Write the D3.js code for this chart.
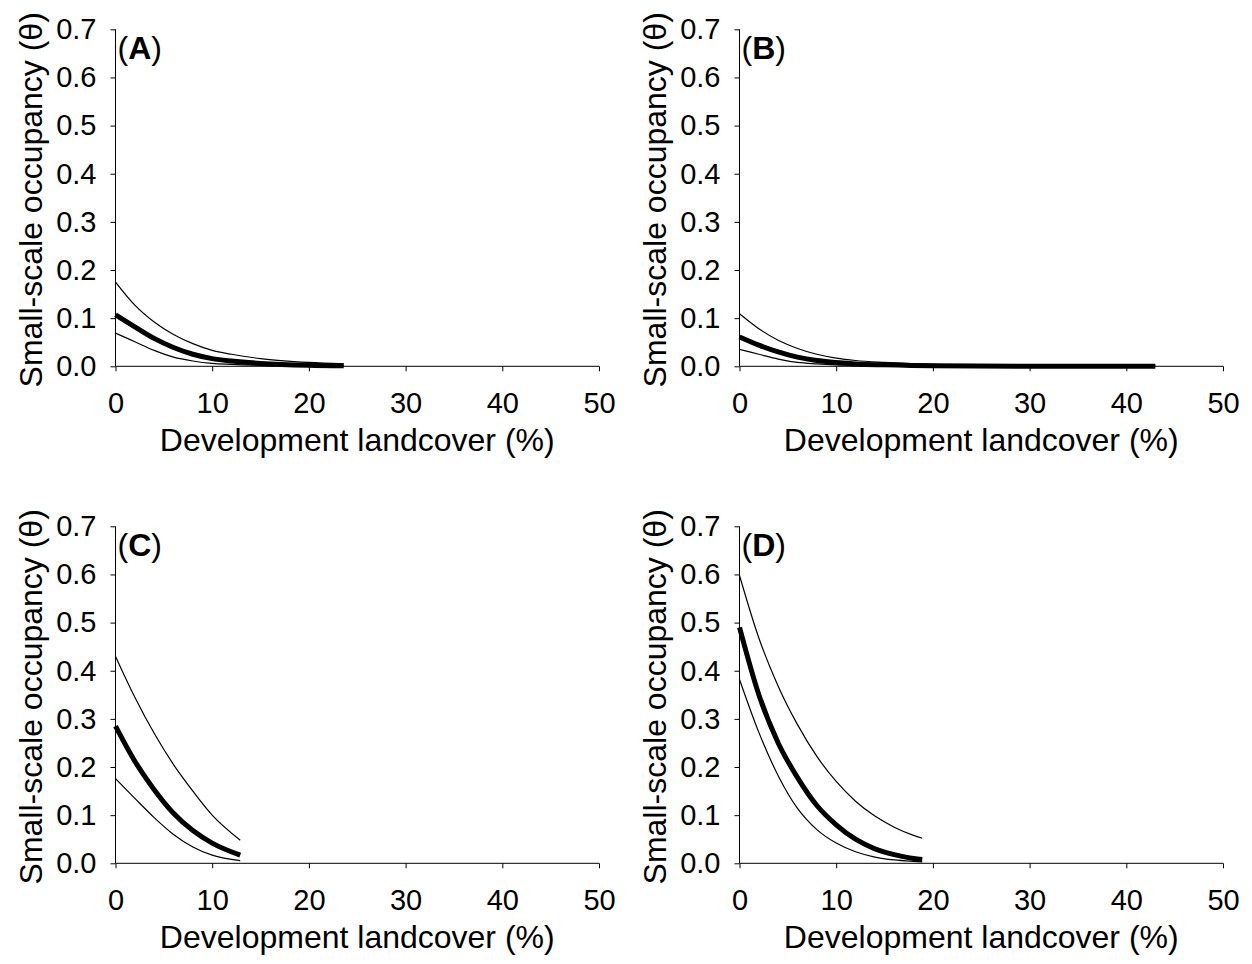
<!DOCTYPE html>
<html>
<head>
<meta charset="utf-8">
<script src="https://cdn.jsdelivr.net/npm/d3@7"></script>
<style>
  html, body { margin: 0; padding: 0; background: #fff; }
  svg text { font-family: "Liberation Sans", Arial, sans-serif; fill: #000; }
</style>
</head>
<body>
<svg id="chart" width="1252" height="964"></svg>
<script>
// Axis ticks
const xTicks = [0, 10, 20, 30, 40, 50];
const yTicks = [0, 0.1, 0.2, 0.3, 0.4, 0.5, 0.6, 0.7];
const panelLabels = ["A", "B", "C", "D"];

// Panel A: development landcover (%) and predicted occupancy with bounds
const xA = [0, 2, 4, 6, 8, 10, 12, 15, 20, 23.6];
const upperA = [0.175, 0.127, 0.092, 0.066, 0.047, 0.033, 0.025, 0.016, 0.008, 0.005];
const meanA  = [0.107, 0.082, 0.058, 0.039, 0.025, 0.016, 0.011, 0.006, 0.002, 0.001];
const lowerA = [0.069, 0.051, 0.033, 0.019, 0.011, 0.006, 0.004, 0.002, 0.0006, 0.0003];

// Panel B
const xB = [0, 2, 4, 6, 8, 10, 12, 15, 20, 30, 43];
const upperB = [0.109, 0.078, 0.054, 0.037, 0.025, 0.017, 0.012, 0.008, 0.004, 0.001, 0.0002];
const meanB  = [0.061, 0.044, 0.030, 0.019, 0.012, 0.008, 0.005, 0.003, 0.001, 0.0002, 0.00003];
const lowerB = [0.035, 0.025, 0.015, 0.008, 0.005, 0.003, 0.002, 0.001, 0.0003, 0.00005, 0.00001];

// Panel C
const xC = [0, 2, 4, 6, 8, 10, 12.9];
const upperC = [0.430, 0.345, 0.270, 0.205, 0.150, 0.100, 0.048];
const meanC  = [0.285, 0.212, 0.153, 0.104, 0.068, 0.042, 0.017];
const lowerC = [0.176, 0.135, 0.095, 0.060, 0.034, 0.017, 0.0055];

// Panel D
const xD = [0, 2, 4, 6, 8, 10, 12, 14, 16, 18, 18.9];
const upperD = [0.598, 0.468, 0.368, 0.288, 0.222, 0.170, 0.129, 0.098, 0.075, 0.058, 0.052];
const meanD  = [0.490, 0.350, 0.250, 0.178, 0.120, 0.080, 0.050, 0.030, 0.018, 0.010, 0.008];
const lowerD = [0.382, 0.272, 0.182, 0.114, 0.070, 0.042, 0.024, 0.013, 0.007, 0.004, 0.003];

const panels = [
  { label: panelLabels[0], x: xA, upper: upperA, mean: meanA, lower: lowerA, left: 115.5, top: 29.3 },
  { label: panelLabels[1], x: xB, upper: upperB, mean: meanB, lower: lowerB, left: 739.5, top: 29.3 },
  { label: panelLabels[2], x: xC, upper: upperC, mean: meanC, lower: lowerC, left: 115.5, top: 526.3 },
  { label: panelLabels[3], x: xD, upper: upperD, mean: meanD, lower: lowerD, left: 739.5, top: 526.3 }
];

const W = 483.5, H = 337;
const svg = d3.select("#chart");

panels.forEach(p => {
  const g = svg.append("g").attr("transform", `translate(${p.left},${p.top})`);
  const x = d3.scaleLinear().domain([0, 50]).range([0, W]);
  const y = d3.scaleLinear().domain([0, 0.7]).range([H, 0]);

  // y axis
  const ya = g.append("g")
    .call(d3.axisLeft(y).tickValues(yTicks).tickFormat(d3.format(".1f")).tickSize(5).tickPadding(14));
  ya.select(".domain").attr("stroke", "#000").attr("stroke-width", 1).attr("d", `M0,0V${H}`);
  ya.selectAll(".tick line").attr("stroke", "#000");
  ya.selectAll(".tick text").attr("font-size", 29).attr("font-family", "Liberation Sans, Arial, sans-serif");

  // x axis
  const xa = g.append("g").attr("transform", `translate(0,${H})`)
    .call(d3.axisBottom(x).tickValues(xTicks).tickFormat(d3.format("d")).tickSize(5).tickPadding(21));
  xa.select(".domain").attr("stroke", "#000").attr("stroke-width", 1).attr("d", `M0,0H${W}`);
  xa.selectAll(".tick line").attr("stroke", "#000");
  xa.selectAll(".tick text").attr("font-size", 29).attr("font-family", "Liberation Sans, Arial, sans-serif");

  // axis titles
  g.append("text")
    .attr("x", W / 2).attr("y", H + 85)
    .attr("text-anchor", "middle").attr("font-size", 32)
    .text("Development landcover (%)");
  g.append("text")
    .attr("transform", `translate(-74,${H / 2 + 2}) rotate(-90)`)
    .attr("text-anchor", "middle").attr("font-size", 32)
    .text("Small-scale occupancy (θ)");

  // panel label
  const lab = g.append("text").attr("x", 2).attr("y", 30).attr("font-size", 32);
  lab.append("tspan").text("(");
  lab.append("tspan").attr("font-weight", "bold").text(p.label);
  lab.append("tspan").text(")");

  const line = d3.line()
    .x(d => x(d[0])).y(d => y(d[1]))
    .curve(d3.curveMonotoneX);

  [["upper", 1.2], ["lower", 1.2], ["mean", 5]].forEach(([key, w]) => {
    g.append("path")
      .datum(p.x.map((v, i) => [v, p[key][i]]))
      .attr("fill", "none").attr("stroke", "#000")
      .attr("stroke-width", w)
      .attr("d", line);
  });
});
</script>
</body>
</html>
